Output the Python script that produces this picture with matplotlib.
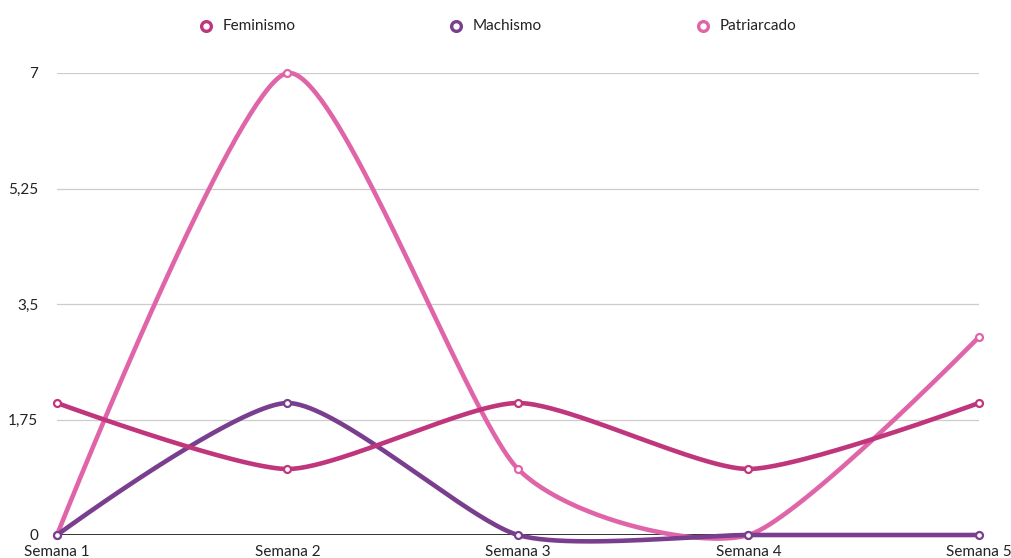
import numpy as np
import matplotlib
matplotlib.use("Agg")
import matplotlib.pyplot as plt
from matplotlib.lines import Line2D

plt.rcParams['font.family'] = ['Lato', 'DejaVu Sans']

categories = ["Semana 1", "Semana 2", "Semana 3", "Semana 4", "Semana 5"]
feminismo = [2, 1, 2, 1, 2]
machismo = [0, 2, 0, 0, 0]
patriarcado = [0, 7, 1, 0, 3]
yticks = [0, 1.75, 3.5, 5.25, 7]
ytick_labels = ["0", "1,75", "3,5", "5,25", "7"]

series = [
    ("Feminismo", feminismo, "#c0367c", 3),
    ("Machismo", machismo, "#7a3e8e", 2),
    ("Patriarcado", patriarcado, "#e065a8", 1),
]


def cardinal(x, y, tension=0.35, n=80):
    """d3-style cardinal spline (endpoints use their own point as control)."""
    k = (1 - tension) / 6
    x = np.asarray(x, float)
    y = np.asarray(y, float)
    m = len(x)
    xs, ys = [], []
    t = np.linspace(0, 1, n)
    b0 = (1 - t) ** 3
    b1 = 3 * (1 - t) ** 2 * t
    b2 = 3 * (1 - t) * t ** 2
    b3 = t ** 3
    for i in range(m - 1):
        if i == 0:
            c1x, c1y = x[i], y[i]
        else:
            c1x = x[i] + k * (x[i + 1] - x[i - 1])
            c1y = y[i] + k * (y[i + 1] - y[i - 1])
        if i + 2 >= m:
            c2x, c2y = x[i + 1], y[i + 1]
        else:
            c2x = x[i + 1] - k * (x[i + 2] - x[i])
            c2y = y[i + 1] - k * (y[i + 2] - y[i])
        xs.append(b0 * x[i] + b1 * c1x + b2 * c2x + b3 * x[i + 1])
        ys.append(b0 * y[i] + b1 * c1y + b2 * c2y + b3 * y[i + 1])
    return np.concatenate(xs), np.concatenate(ys)


W, H = 1012, 558
fig = plt.figure(figsize=(W / 100, H / 100), dpi=100)
left, right, ybot, ytop = 57, 979, 535, 73
ax = fig.add_axes([left / W, (H - ybot) / H, (right - left) / W, (ybot - ytop) / H])

xpos = np.arange(len(categories))
ax.set_xlim(xpos[0], xpos[-1])
ax.set_ylim(0, 7)

for yv in yticks[1:]:
    ax.axhline(yv, color="#cccccc", lw=0.9, zorder=0)
ax.axhline(0, color="#111111", lw=1.2, zorder=0.5)

for name, vals, col, z in series:
    sx, sy = cardinal(xpos, vals)
    ax.plot(sx, sy, color=col, lw=3.3, zorder=z, clip_on=False, solid_capstyle='round')
    ax.plot(xpos, vals, linestyle='none', marker='o', markersize=5,
            markerfacecolor='white', markeredgecolor=col, markeredgewidth=1.6,
            zorder=z + 0.5, clip_on=False)

for s in ax.spines.values():
    s.set_visible(False)
ax.set_xticks(xpos)
ax.set_xticklabels(categories, fontsize=11, color="#222222")
ax.set_yticks(yticks)
ax.set_yticklabels(ytick_labels, fontsize=11, color="#222222")
ax.tick_params(length=0)
ax.tick_params(axis='y', pad=13.5)
ax.tick_params(axis='x', pad=7)

# legend
leg_items = [("Feminismo", "#c0367c", 206), ("Machismo", "#7a3e8e", 456), ("Patriarcado", "#e065a8", 703)]
for name, col, px in leg_items:
    fig.add_artist(Line2D([px / W], [(H - 26) / H], transform=fig.transFigure,
                          marker='o', markersize=7, markerfacecolor='white',
                          markeredgecolor=col, markeredgewidth=2.4, linestyle='none'))
    fig.text((px + 17) / W, (H - 26) / H, name, fontsize=11, color="#222222",
             va='center', ha='left')

fig.savefig("out.png", dpi=100)
